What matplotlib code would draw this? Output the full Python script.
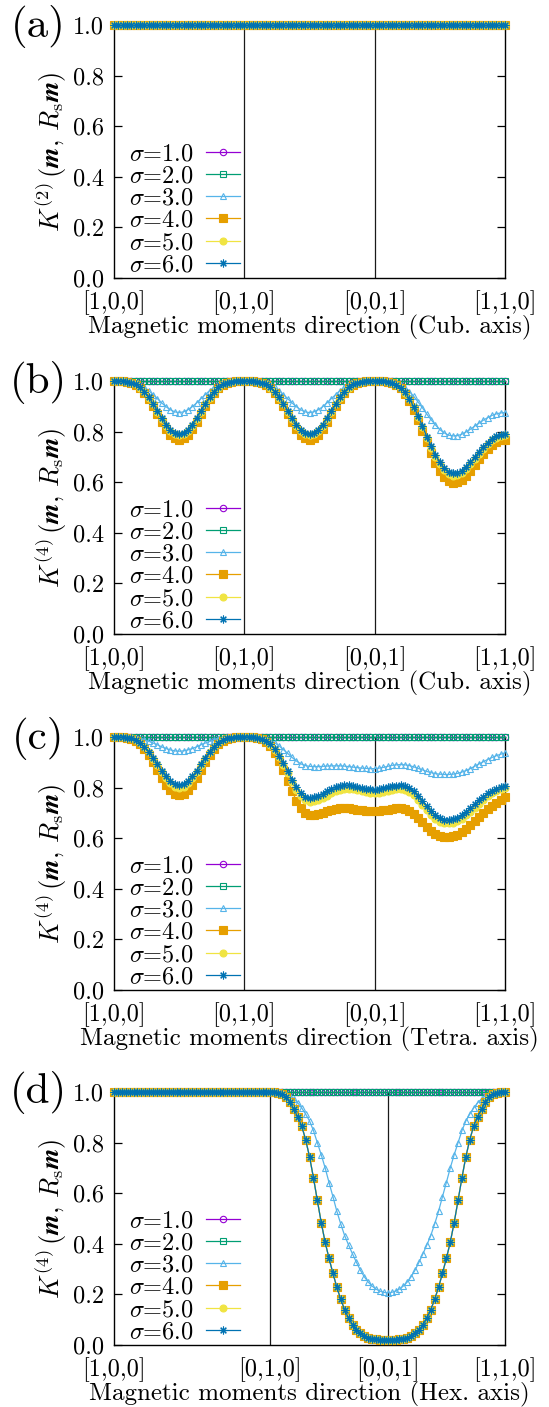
import io
import numpy as np
import matplotlib
matplotlib.use('Agg')
import matplotlib.pyplot as plt
from matplotlib import mathtext

plt.rcParams['font.family'] = 'cmr10'
plt.rcParams['mathtext.fontset'] = 'cm'
plt.rcParams['axes.unicode_minus'] = False
plt.rcParams['axes.formatter.use_mathtext'] = True

sigmas = ['1.0', '2.0', '3.0', '4.0', '5.0', '6.0']
colors = ['#9400D3', '#009E73', '#56B4E9', '#E69F00', '#F0E442', '#0072B2']

# path coordinates (degrees along the path), 3 deg steps
x_cub = np.arange(0, 271, 3)
x_hex = np.arange(0, 301, 3)
cub_ticks = [0, 90, 180, 270]
hex_ticks = [0, 120, 210, 300]
dir_labels = ['[1,0,0]', '[0,1,0]', '[0,0,1]', '[1,1,0]']

flat_cub = [1.0] * 91
flat_hex = [1.0] * 101
hex_plane = [1.0] * 40

# ---- (b) cubic, K4 : dips [100]->[010] and [010]->[001] are the same
b3_dip = [1.000,1.000,1.000,0.999,0.997,0.992,0.985,0.975,0.962,0.946,0.930,0.913,0.898,0.886,0.878,0.875,
          0.878,0.886,0.898,0.913,0.930,0.946,0.962,0.975,0.985,0.992,0.997,0.999,1.000,1.000,1.000]
b4_dip = [1.000,1.000,1.000,0.998,0.994,0.986,0.972,0.953,0.929,0.901,0.870,0.838,0.810,0.788,0.773,0.768,
          0.773,0.788,0.810,0.838,0.870,0.901,0.929,0.953,0.972,0.986,0.994,0.998,1.000,1.000,1.000]
b5_dip = [1.000,1.000,1.000,0.998,0.994,0.987,0.974,0.957,0.934,0.908,0.879,0.850,0.824,0.803,0.790,0.785,
          0.790,0.803,0.824,0.850,0.879,0.908,0.934,0.957,0.974,0.987,0.994,0.998,1.000,1.000,1.000]
b6_dip = [1.000,1.000,1.000,0.998,0.994,0.987,0.975,0.958,0.936,0.910,0.882,0.854,0.828,0.808,0.795,0.790,
          0.795,0.808,0.828,0.854,0.882,0.910,0.936,0.958,0.975,0.987,0.994,0.998,1.000,1.000,1.000]
# [001] -> [110]
b3_seg3 = [1.000,1.000,1.000,0.999,0.997,0.992,0.984,0.973,0.958,0.939,0.917,0.894,0.869,0.847,0.826,0.808,
           0.795,0.786,0.783,0.784,0.789,0.798,0.809,0.821,0.833,0.845,0.855,0.864,0.870,0.874,0.875]
b4_seg3 = [1.000,1.000,1.000,0.998,0.994,0.985,0.971,0.950,0.922,0.887,0.847,0.803,0.757,0.715,0.677,0.644,
           0.619,0.603,0.597,0.599,0.609,0.625,0.645,0.667,0.690,0.712,0.731,0.747,0.758,0.766,0.768]
b5_seg3 = [1.000,1.000,1.000,0.998,0.994,0.986,0.973,0.954,0.928,0.896,0.858,0.817,0.775,0.736,0.700,0.670,
           0.647,0.633,0.626,0.628,0.637,0.652,0.671,0.691,0.713,0.733,0.751,0.765,0.776,0.783,0.785]
b6_seg3 = [1.000,1.000,1.000,0.998,0.994,0.986,0.974,0.955,0.929,0.898,0.861,0.821,0.780,0.742,0.707,0.678,
           0.655,0.641,0.635,0.637,0.646,0.660,0.678,0.699,0.719,0.739,0.756,0.771,0.781,0.788,0.790]

# ---- (c) tetragonal, K4
c3_seg1 = [1.000,1.000,1.000,0.999,0.998,0.997,0.993,0.989,0.983,0.976,0.969,0.961,0.954,0.949,0.945,0.944,
           0.945,0.949,0.954,0.961,0.969,0.976,0.983,0.989,0.993,0.997,0.998,0.999,1.000,1.000,1.000]
c4_seg1 = [1.000,1.000,1.000,0.998,0.994,0.986,0.972,0.954,0.930,0.901,0.870,0.839,0.811,0.789,0.774,0.769,
           0.774,0.789,0.811,0.839,0.870,0.901,0.930,0.954,0.972,0.986,0.994,0.998,1.000,1.000,1.000]
c5_seg1 = [1.000,1.000,1.000,0.998,0.995,0.988,0.976,0.960,0.939,0.914,0.888,0.861,0.836,0.817,0.804,0.800,
           0.804,0.817,0.836,0.861,0.888,0.914,0.939,0.960,0.976,0.988,0.995,0.998,1.000,1.000,1.000]
c6_seg1 = [1.000,1.000,1.000,0.998,0.995,0.988,0.977,0.962,0.942,0.918,0.893,0.867,0.844,0.825,0.813,0.809,
           0.813,0.825,0.844,0.867,0.893,0.918,0.942,0.962,0.977,0.988,0.995,0.998,1.000,1.000,1.000]
c3_seg2 = [1.000,1.000,1.000,0.999,0.997,0.993,0.986,0.977,0.965,0.950,0.935,0.919,0.905,0.894,0.887,0.884,
           0.883,0.883,0.884,0.885,0.886,0.886,0.886,0.885,0.883,0.881,0.879,0.877,0.876,0.875,0.875]
c4_seg2 = [1.000,1.000,0.999,0.997,0.992,0.981,0.963,0.938,0.906,0.868,0.827,0.785,0.748,0.718,0.699,0.692,
           0.692,0.695,0.700,0.706,0.711,0.715,0.718,0.719,0.718,0.716,0.713,0.710,0.708,0.706,0.706]
c5_seg2 = [1.000,1.000,1.000,0.998,0.993,0.984,0.970,0.949,0.922,0.891,0.857,0.822,0.791,0.767,0.751,0.745,
           0.746,0.751,0.759,0.768,0.777,0.785,0.791,0.794,0.795,0.793,0.789,0.785,0.782,0.779,0.778]
c6_seg2 = [1.000,1.000,1.000,0.998,0.993,0.985,0.971,0.952,0.926,0.897,0.864,0.832,0.803,0.779,0.764,0.759,
           0.761,0.767,0.776,0.786,0.795,0.802,0.807,0.809,0.809,0.806,0.802,0.798,0.795,0.793,0.792]
c3_seg3 = [0.875,0.877,0.880,0.884,0.888,0.890,0.891,0.890,0.887,0.882,0.876,0.870,0.864,0.859,0.855,0.853,
           0.852,0.852,0.853,0.856,0.861,0.867,0.875,0.884,0.893,0.902,0.911,0.919,0.926,0.932,0.937]
c4_seg3 = [0.706,0.707,0.710,0.713,0.716,0.718,0.719,0.716,0.708,0.696,0.681,0.664,0.646,0.630,0.618,0.610,
           0.606,0.606,0.608,0.614,0.623,0.636,0.651,0.667,0.683,0.699,0.714,0.728,0.741,0.752,0.762]
c5_seg3 = [0.778,0.780,0.784,0.788,0.792,0.794,0.795,0.792,0.783,0.770,0.752,0.732,0.711,0.692,0.676,0.665,
           0.660,0.659,0.661,0.667,0.677,0.690,0.705,0.721,0.737,0.752,0.765,0.777,0.786,0.794,0.800]
c6_seg3 = [0.792,0.794,0.798,0.802,0.806,0.808,0.809,0.806,0.798,0.785,0.768,0.748,0.727,0.706,0.690,0.679,
           0.673,0.672,0.674,0.680,0.690,0.703,0.718,0.734,0.750,0.764,0.777,0.788,0.796,0.802,0.805]

# ---- (d) hexagonal, K4 : [010]->[001], the [001]->[110] half is its mirror
d3_seg2 = [1.000,1.000,1.000,0.998,0.993,0.985,0.973,0.957,0.937,0.913,0.886,0.848,0.800,0.752,0.700,0.642,
           0.586,0.528,0.478,0.432,0.395,0.360,0.327,0.296,0.270,0.249,0.233,0.221,0.213,0.208,0.206]
d6_seg2 = [1.000,1.000,0.998,0.992,0.981,0.960,0.932,0.902,0.866,0.812,0.745,0.662,0.572,0.484,0.406,0.342,
           0.283,0.228,0.180,0.139,0.106,0.080,0.060,0.046,0.036,0.029,0.025,0.022,0.021,0.020,0.020]


def cub(seg1, seg2, seg3):
    return seg1 + seg2[1:] + seg3[1:]


def hexa(seg2):
    return hex_plane + seg2 + seg2[::-1][1:]


panels = [
    dict(tag='(a)', order=2, axis='Cub.', x=x_cub, ticks=cub_ticks,
         ys=[flat_cub] * 6),
    dict(tag='(b)', order=4, axis='Cub.', x=x_cub, ticks=cub_ticks,
         ys=[flat_cub, flat_cub,
             cub(b3_dip, b3_dip, b3_seg3), cub(b4_dip, b4_dip, b4_seg3),
             cub(b5_dip, b5_dip, b5_seg3), cub(b6_dip, b6_dip, b6_seg3)]),
    dict(tag='(c)', order=4, axis='Tetra.', x=x_cub, ticks=cub_ticks,
         ys=[flat_cub, flat_cub,
             cub(c3_seg1, c3_seg2, c3_seg3), cub(c4_seg1, c4_seg2, c4_seg3),
             cub(c5_seg1, c5_seg2, c5_seg3), cub(c6_seg1, c6_seg2, c6_seg3)]),
    dict(tag='(d)', order=4, axis='Hex.', x=x_hex, ticks=hex_ticks,
         ys=[flat_hex, flat_hex, hexa(d3_seg2), hexa(d6_seg2),
             hexa(d6_seg2), hexa(d6_seg2)]),
]

markers = [dict(marker='o', ms=4.6, mfc='none'),
           dict(marker='s', ms=4.6, mfc='none'),
           dict(marker='^', ms=4.8, mfc='none'),
           dict(marker='s', ms=5.6),
           dict(marker='o', ms=5.0),
           dict(marker=(8, 2, 0), ms=5.6)]


def ylabel_text(order):
    s = r'$K^{(%d)}\,(\mathbfit{m},\,R_{\rm s}\mathbfit{m})$' % order
    try:
        mathtext.math_to_image(s, io.BytesIO(), dpi=72, format='png')
    except Exception:
        s = s.replace(r'\mathbfit', r'\mathbf')
    return s


W, H = 549, 1407
fig = plt.figure(figsize=(W / 100, H / 100), dpi=100)
tops = [25, 381, 737, 1092]
ax_h = 253

for p, top in zip(panels, tops):
    ax = fig.add_axes([114 / W, 1 - (top + ax_h) / H, 391 / W, ax_h / H])
    for xv in p['ticks'][1:3]:
        ax.axvline(xv, color='0.1', lw=0.9, zorder=1)
    for i in range(6):
        ax.plot(p['x'], p['ys'][i], color=colors[i], lw=0.9, mew=0.8,
                mec=colors[i], clip_on=False, zorder=3 + i,
                label=r'$\sigma$=' + sigmas[i], **markers[i])
    ax.set_xlim(p['ticks'][0], p['ticks'][-1])
    ax.set_ylim(0, 1)
    ax.set_xticks(p['ticks'])
    ax.set_xticklabels(dir_labels)
    ax.set_yticks(np.arange(0, 1.01, 0.2))
    ax.set_yticklabels(['0.0', '0.2', '0.4', '0.6', '0.8', '1.0'])
    ax.tick_params(axis='y', direction='in', length=6, width=0.9,
                   left=True, right=True, labelsize=17.5, pad=7)
    ax.tick_params(axis='x', length=0, labelsize=17.5, pad=9)
    for sp in ax.spines.values():
        sp.set_linewidth(1.0)
    ax.set_xlabel('Magnetic moments direction (%s axis)' % p['axis'],
                  fontsize=18, labelpad=0)
    ax.set_ylabel(ylabel_text(p['order']), fontsize=19, labelpad=3)
    ax.legend(loc='lower left', bbox_to_anchor=(-0.005, -0.06), frameon=False,
              markerfirst=False, numpoints=1, fontsize=17.5,
              handlelength=1.4, handletextpad=0.5, labelspacing=0.0,
              borderpad=0.2)
    fig.text(38 / W, 1 - (top + 1) / H, p['tag'], fontsize=31,
             ha='center', va='center')

fig.savefig('out.png', dpi=100)
